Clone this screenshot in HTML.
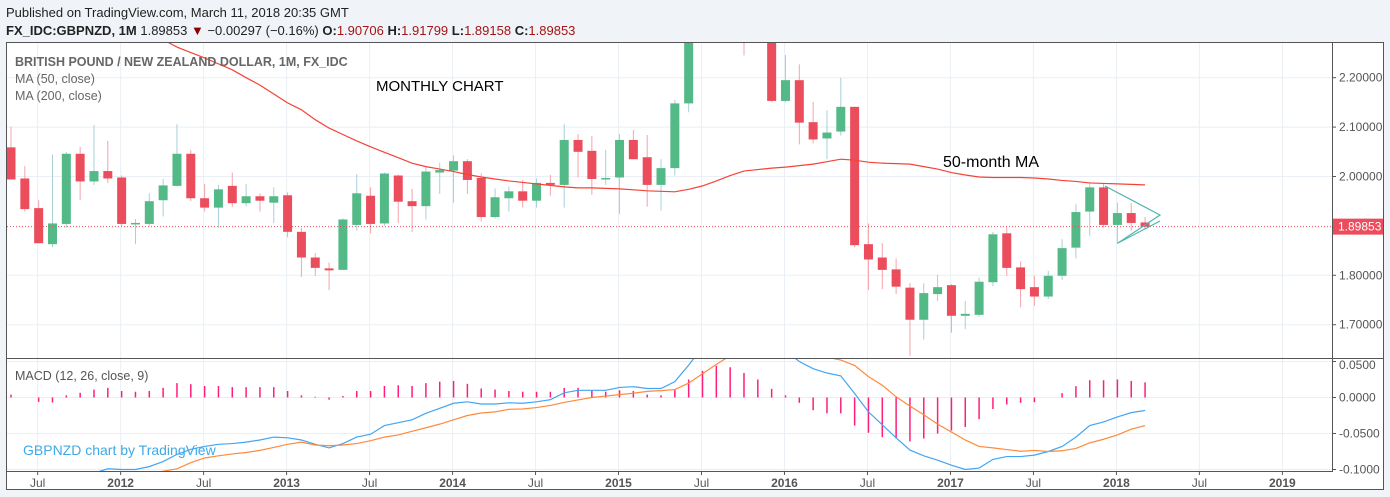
<!DOCTYPE html>
<html><head><meta charset="utf-8"><style>
body{margin:0;background:#f0f3f7;width:1390px;height:497px;overflow:hidden;font-family:"Liberation Sans",sans-serif}
svg{position:absolute;left:0;top:0}
</style></head><body>
<svg id="c" width="1390" height="497" xmlns="http://www.w3.org/2000/svg">
<text x="6" y="17" font-size="13" fill="#222">Published on TradingView.com, March 11, 2018 20:35 GMT</text>
<text x="6" y="35" font-size="13" fill="#222"><tspan font-weight="bold">FX_IDC:GBPNZD, 1M</tspan> 1.89853 <tspan fill="#8b0000">▼</tspan> −0.00297 (−0.16%) <tspan font-weight="bold">O:</tspan><tspan fill="#a31515">1.90706</tspan> <tspan font-weight="bold">H:</tspan><tspan fill="#a31515">1.91799</tspan> <tspan font-weight="bold">L:</tspan><tspan fill="#a31515">1.89158</tspan> <tspan font-weight="bold">C:</tspan><tspan fill="#a31515">1.89853</tspan></text>
<rect x="6.5" y="42.5" width="1377" height="447" fill="#fff" stroke="#555"/>
<g id="grid"></g>
<g id="main" clip-path="url(#cm)"></g>
<g id="macd" clip-path="url(#cd)"></g>
<defs><clipPath id="cm"><rect x="7" y="43" width="1325" height="315"/></clipPath><clipPath id="cd"><rect x="7" y="359" width="1325" height="112"/></clipPath></defs>
<line x1="1332.5" y1="43" x2="1332.5" y2="472" stroke="#555"/>
<line x1="7" y1="358.5" x2="1383" y2="358.5" stroke="#555"/>
<line x1="7" y1="471.5" x2="1332" y2="471.5" stroke="#555"/>
<g id="axes"></g>
<text x="15" y="66" font-size="12.5" font-weight="bold" fill="#666">BRITISH POUND / NEW ZEALAND DOLLAR, 1M, FX_IDC</text>
<text x="15" y="83" font-size="12.5" fill="#666">MA (50, close)</text>
<text x="15" y="100" font-size="12.5" fill="#666">MA (200, close)</text>
<text x="376" y="91" font-size="15" fill="#000">MONTHLY CHART</text>
<text x="943" y="167" font-size="16" fill="#000">50-month MA</text>
<text x="15" y="380" font-size="12.5" fill="#555">MACD (12, 26, close, 9)</text>
<text x="23" y="455" font-size="14" fill="#3fa9e5">GBPNZD chart by TradingView</text>
<polyline points="1105,186 1160,215 1118,243" fill="none" stroke="#4db6ac" stroke-width="1.2"/>
<line x1="1118" y1="243" x2="1160" y2="221" stroke="#4db6ac" stroke-width="1.2"/>
</svg>
<script>
const opens=[2.059,1.996,1.936,1.863,1.904,2.046,1.99,2.011,1.998,1.904,1.904,1.952,1.981,2.046,1.956,1.937,1.981,1.946,1.96,1.947,1.962,1.888,1.836,1.814,1.811,1.902,1.961,1.905,2.002,1.95,1.94,2.008,2.012,2.031,1.997,1.918,1.956,1.97,1.951,1.987,1.983,2.074,2.052,1.994,1.998,2.074,2.039,1.983,2.017,2.148,2.30,2.36,2.40,2.42,2.40,2.32,2.153,2.195,2.11,2.077,2.091,2.141,1.863,1.836,1.812,1.775,1.71,1.762,1.78,1.718,1.72,1.786,1.885,1.816,1.776,1.757,1.799,1.856,1.929,1.978,1.902,1.926,1.907];
const closes=[1.994,1.934,1.865,1.905,2.046,1.99,2.011,1.996,1.904,1.906,1.95,1.982,2.046,1.956,1.937,1.974,1.946,1.96,1.951,1.96,1.888,1.836,1.815,1.81,1.913,1.966,1.904,2.006,1.949,1.94,2.01,2.013,2.031,1.993,1.918,1.958,1.97,1.951,1.987,1.983,2.074,2.05,1.995,1.997,2.074,2.035,1.983,2.017,2.148,2.30,2.36,2.40,2.42,2.40,2.32,2.153,2.195,2.109,2.075,2.089,2.141,1.861,1.832,1.811,1.777,1.71,1.764,1.776,1.718,1.722,1.787,1.883,1.815,1.772,1.757,1.799,1.855,1.928,1.978,1.902,1.926,1.906,1.8985];
const highs=[2.101,2.021,1.952,2.044,2.05,2.06,2.104,2.072,2.002,1.914,1.966,1.995,2.106,2.054,1.985,1.983,2.008,1.985,1.966,1.978,1.968,1.896,1.845,1.826,1.915,2.005,1.978,2.008,2.004,1.975,2.021,2.028,2.043,2.035,2.006,1.976,1.98,1.993,1.996,2.003,2.106,2.086,2.082,2.054,2.086,2.094,2.084,2.035,2.155,2.32,2.38,2.42,2.45,2.45,2.42,2.34,2.246,2.227,2.151,2.134,2.2,2.141,1.905,1.865,1.834,1.784,1.784,1.801,1.782,1.748,1.795,1.888,1.897,1.828,1.799,1.809,1.873,1.944,1.989,1.985,1.947,1.946,1.918];
const lows=[1.994,1.929,1.864,1.857,1.896,1.952,1.983,1.987,1.9,1.863,1.9,1.919,1.98,1.95,1.929,1.896,1.938,1.939,1.929,1.906,1.877,1.797,1.799,1.77,1.81,1.89,1.885,1.9,1.906,1.888,1.913,1.965,1.947,1.965,1.909,1.915,1.929,1.937,1.937,1.961,1.937,1.998,1.963,1.983,1.924,2.035,1.939,1.931,2.002,2.13,2.28,2.34,2.38,2.245,2.30,2.151,2.15,2.065,2.067,2.035,2.083,1.857,1.77,1.772,1.762,1.637,1.67,1.748,1.684,1.691,1.716,1.778,1.799,1.735,1.738,1.752,1.79,1.834,1.88,1.897,1.863,1.89,1.895];
const ma50=[2.40,2.39,2.38,2.37,2.36,2.35,2.34,2.32,2.31,2.30,2.29,2.277,2.262,2.251,2.24,2.228,2.216,2.2,2.185,2.167,2.149,2.135,2.115,2.098,2.085,2.072,2.06,2.049,2.038,2.027,2.02,2.015,2.01,2.004,1.999,1.995,1.991,1.988,1.985,1.982,1.979,1.977,1.977,1.976,1.975,1.973,1.971,1.97,1.969,1.974,1.981,1.991,2.002,2.011,2.014,2.017,2.019,2.022,2.025,2.03,2.035,2.033,2.029,2.027,2.026,2.025,2.02,2.015,2.008,2.003,1.999,1.998,1.998,1.998,1.997,1.995,1.992,1.99,1.987,1.986,1.985,1.984,1.983];
const macdLine=[-0.12,-0.125,-0.13,-0.13,-0.125,-0.115,-0.105,-0.099,-0.1,-0.1,-0.096,-0.089,-0.079,-0.072,-0.068,-0.065,-0.064,-0.062,-0.059,-0.055,-0.056,-0.059,-0.065,-0.07,-0.064,-0.055,-0.051,-0.039,-0.035,-0.031,-0.022,-0.015,-0.008,-0.006,-0.009,-0.009,-0.0074,-0.008,-0.006,-0.003,0.0065,0.01,0.01,0.01,0.014,0.015,0.0125,0.0125,0.022,0.045,0.07,0.09,0.10,0.10,0.095,0.08,0.065,0.05,0.04,0.034,0.03,0.0056,-0.02,-0.038,-0.056,-0.073,-0.081,-0.087,-0.094,-0.1,-0.098,-0.086,-0.082,-0.082,-0.08,-0.075,-0.068,-0.055,-0.039,-0.034,-0.027,-0.021,-0.018];
const histVals=[0.004,0,-0.006,-0.007,0.003,0.0065,0.011,0.0134,0.009,0.008,0.009,0.0134,0.02,0.0185,0.016,0.016,0.0144,0.0144,0.0144,0.0144,0.009,0.003,0.001,-0.003,0.002,0.009,0.009,0.016,0.017,0.016,0.02,0.022,0.023,0.019,0.0125,0.011,0.009,0.008,0.008,0.008,0.0134,0.0134,0.01,0.008,0.01,0.009,0.004,0.003,0.011,0.025,0.037,0.044,0.042,0.034,0.025,0.012,0.003,-0.0074,-0.0176,-0.022,-0.022,-0.039,-0.049,-0.055,-0.057,-0.061,-0.057,-0.05,-0.046,-0.041,-0.03,-0.016,-0.0097,-0.0074,-0.0065,0,0.006,0.0157,0.024,0.024,0.025,0.023,0.021];
const priceTicks=[2.2,2.1,2.0,1.8,1.7];
const macdTicks=[0.05,0,-0.05,-0.1];
const timeLabels=["Jul","2012","Jul","2013","Jul","2014","Jul","2015","Jul","2016","Jul","2017","Jul","2018","Jul","2019"];
const lastPrice=1.89853;

const NS="http://www.w3.org/2000/svg";
const X0=11,DX=13.83;
const xAt=i=>X0+i*DX;
const yP=p=>176.5-(p-2.0)*494;
const yM=v=>397.5-v*720;
function mk(tag,attrs,parent){const e=document.createElementNS(NS,tag);for(const k in attrs)e.setAttribute(k,attrs[k]);parent.appendChild(e);return e;}
const grid=document.getElementById('grid'),main=document.getElementById('main'),macd=document.getElementById('macd'),axes=document.getElementById('axes');
// vertical grid + time labels (Jul 2011 = index 2)
timeLabels.forEach((t,k)=>{const x=xAt(2+k*6)-1;
 const g=mk('line',{x1:x,y1:43,x2:x,y2:471,stroke:'#e9eff4'},grid);
 
 
 const tk=mk('line',{x1:x,y1:471,x2:x,y2:475,stroke:'#555'},axes);
 
 
 const tx=mk('text',{x:x,y:487,'font-size':12,'text-anchor':'middle',fill:'#555','font-weight':/^\d/.test(t)?'bold':'normal'},axes);
 tx.textContent=t;
 
 });
priceTicks.forEach(p=>{const y=yP(p);
 const g=mk('line',{x1:7,y1:y,x2:1332,y2:y,stroke:'#e9eff4'},grid);
 
 
 mk('line',{x1:1332,y1:y,x2:1336,y2:y,stroke:'#555'},axes);
 const tx=mk('text',{x:1339,y:y+4,'font-size':12,fill:'#555'},axes);
 tx.textContent=p.toFixed(5);
 
 });
macdTicks.forEach(v=>{const y=yM(v);
 const g=mk('line',{x1:7,y1:y,x2:1332,y2:y,stroke:'#e9eff4'},grid);
 
 
 mk('line',{x1:1332,y1:y,x2:1336,y2:y,stroke:'#555'},axes);
 const tx=mk('text',{x:1339,y:Math.min(Math.max(y+4,369),477),'font-size':12,fill:'#555'},axes);
 tx.textContent=v.toFixed(4);
 
 });
// candles
opens.forEach((o,i)=>{const c=closes[i],up=c>=o,x=xAt(i);
 const w=mk('line',{x1:x,y1:yP(highs[i]),x2:x,y2:yP(lows[i]),stroke:up?'#a8cfd8':'#f5a3ac'},main);
 
 
 const t=yP(Math.max(o,c)),b=yP(Math.min(o,c));
 const r=mk('rect',{x:x-4.5,y:t,width:9,height:Math.max(b-t,1.5),fill:up?'#53b987':'#eb4d5c'},main);
 
 });
const ma=mk('polyline',{points:ma50.map((v,i)=>xAt(i)+','+yP(v)).join(' '),fill:'none',stroke:'#f44336','stroke-width':1.2},main);


const ly=yP(lastPrice);
const ll=mk('line',{x1:7,y1:ly,x2:1332,y2:ly,stroke:'#eb4d5c','stroke-dasharray':'1,2'},axes);


const lb=mk('rect',{x:1333,y:ly-8,width:50,height:16,fill:'#eb4d5c'},axes);


const lt=mk('text',{x:1338,y:ly+4,'font-size':12,fill:'#fff'},axes);
lt.textContent=lastPrice.toFixed(5);


// MACD
histVals.forEach((h,i)=>{if(h===0)return;const x=xAt(i);
 const b=mk('line',{x1:x,y1:yM(0),x2:x,y2:yM(h),stroke:'#ff1e7a','stroke-width':1.5},macd);
 
 });
const ml=mk('polyline',{points:macdLine.map((v,i)=>xAt(i)+','+yM(v)).join(' '),fill:'none',stroke:'#42a5f5','stroke-width':1.2},macd);


const sl=mk('polyline',{points:macdLine.map((v,i)=>xAt(i)+','+yM(v-histVals[i])).join(' '),fill:'none',stroke:'#ff8a3d','stroke-width':1.2},macd);


</script>
</body></html>
